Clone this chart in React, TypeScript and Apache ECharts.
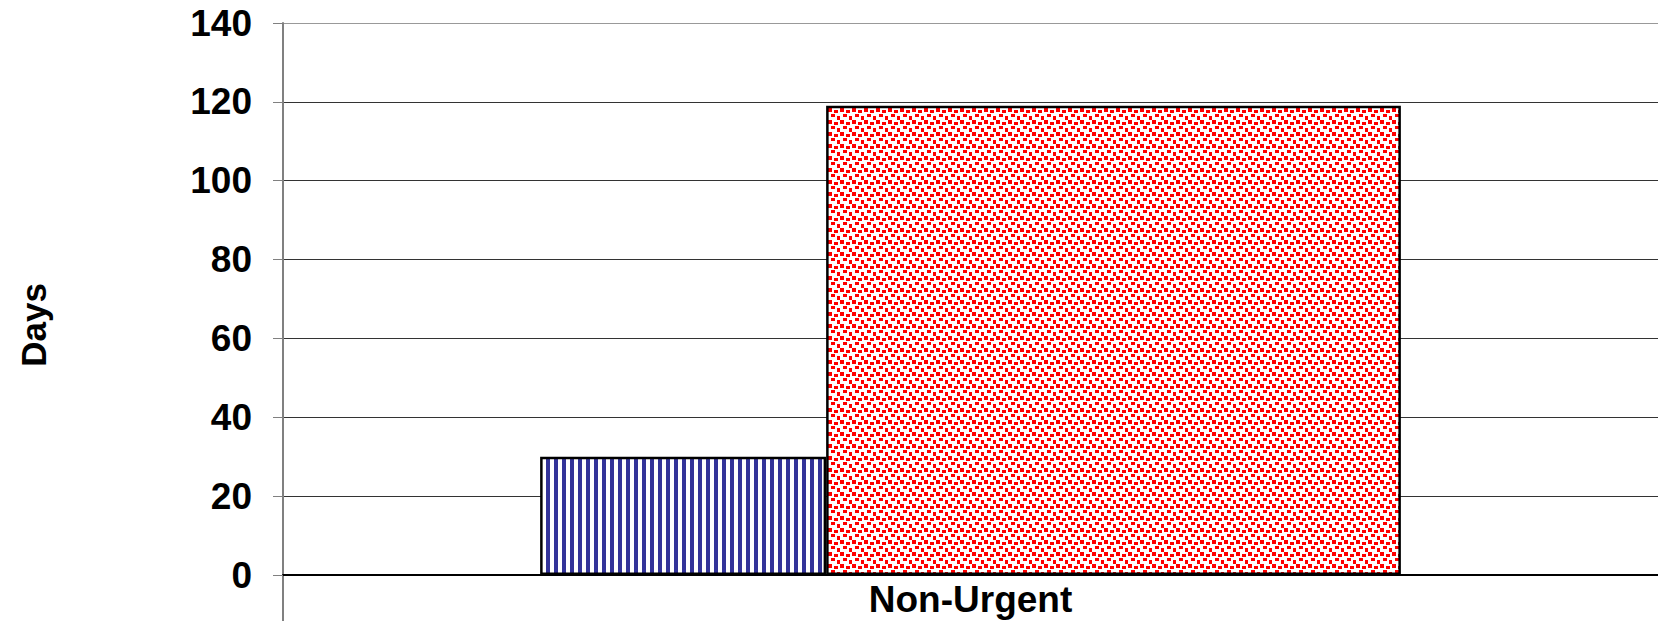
import React, { useEffect, useRef } from "react";
import * as echarts from "echarts";

const categories = ["Non-Urgent"];
const seriesNames = ["Series A", "Series B"];
const seriesAValues = [30];
const seriesBValues = [119];
const yTicks = { min: 0, max: 140, interval: 20 };

function makeStripePattern(): HTMLCanvasElement {
  const c = document.createElement("canvas");
  c.width = 8;
  c.height = 8;
  const ctx = c.getContext("2d")!;
  ctx.fillStyle = "#ffffff";
  ctx.fillRect(0, 0, 8, 8);
  ctx.fillStyle = "#333399";
  ctx.fillRect(2, 0, 4, 8);
  return c;
}

function makeConfettiPattern(): HTMLCanvasElement {
  const c = document.createElement("canvas");
  c.width = 12;
  c.height = 12;
  const ctx = c.getContext("2d")!;
  ctx.fillStyle = "#ffffff";
  ctx.fillRect(0, 0, 12, 12);
  ctx.fillStyle = "#ff0000";
  ctx.fillRect(0, 0, 4, 4);
  ctx.fillRect(6, 2, 4, 3);
  ctx.fillRect(3, 6, 4, 3);
  ctx.fillRect(9, 8, 3, 4);
  return c;
}

export default function App() {
  const ref = useRef<HTMLDivElement>(null);
  useEffect(() => {
    document.body.style.margin = "0";
    const chart = echarts.init(ref.current!, null, { renderer: "svg" });
    const stripe = makeStripePattern();
    const confetti = makeConfettiPattern();
    const font = "'Liberation Sans', Arial, sans-serif";
    const gridColors = ["#333", "#333", "#333", "#333", "#333", "#333", "#333", "#999"];
    chart.setOption({
      animation: false,
      backgroundColor: "#ffffff",
      grid: { left: 283, right: 0, top: 23, bottom: 46, containLabel: false },
      xAxis: {
        type: "category",
        data: categories,
        axisLine: { lineStyle: { color: "#000", width: 2 } },
        axisTick: { show: false },
        axisLabel: {
          margin: 6,
          color: "#000",
          fontFamily: font,
          fontWeight: "bold",
          fontSize: 37,
        },
      },
      yAxis: {
        type: "value",
        min: yTicks.min,
        max: yTicks.max,
        interval: yTicks.interval,
        axisLine: { show: true, lineStyle: { color: "#808080", width: 2 } },
        axisTick: { show: true, length: 10, lineStyle: { color: "#808080", width: 1 } },
        axisLabel: {
          margin: 31,
          color: "#000",
          fontFamily: font,
          fontWeight: "bold",
          fontSize: 37,
        },
        splitLine: { show: true, lineStyle: { color: gridColors, width: 1 } },
      },
      graphic: [
        {
          type: "line",
          shape: { x1: 283, y1: 575, x2: 283, y2: 621 },
          style: { stroke: "#808080", lineWidth: 2 },
        },
        {
          type: "text",
          x: 33,
          y: 325,
          rotation: Math.PI / 2,
          style: {
            text: "Days",
            fill: "#000",
            font: `bold 35px ${font}`,
            align: "center",
            verticalAlign: "middle",
          },
        },
      ],
      series: [
        {
          name: seriesNames[0],
          type: "bar",
          data: seriesAValues,
          barWidth: "20.8%",
          barGap: "0%",
          itemStyle: {
            color: { image: stripe, repeat: "repeat", imageWidth: 8, imageHeight: 8 } as any,
            borderColor: "#000",
            borderWidth: 2.5,
          },
        },
        {
          name: seriesNames[1],
          type: "bar",
          data: seriesBValues,
          barWidth: "41.8%",
          barGap: "0%",
          itemStyle: {
            color: { image: confetti, repeat: "repeat", imageWidth: 12, imageHeight: 12 } as any,
            borderColor: "#000",
            borderWidth: 2.5,
          },
        },
      ],
    });
    return () => chart.dispose();
  }, []);
  return (
    <div
      ref={ref}
      style={{ position: "fixed", left: 0, top: 0, width: 1658, height: 621 }}
    />
  );
}
